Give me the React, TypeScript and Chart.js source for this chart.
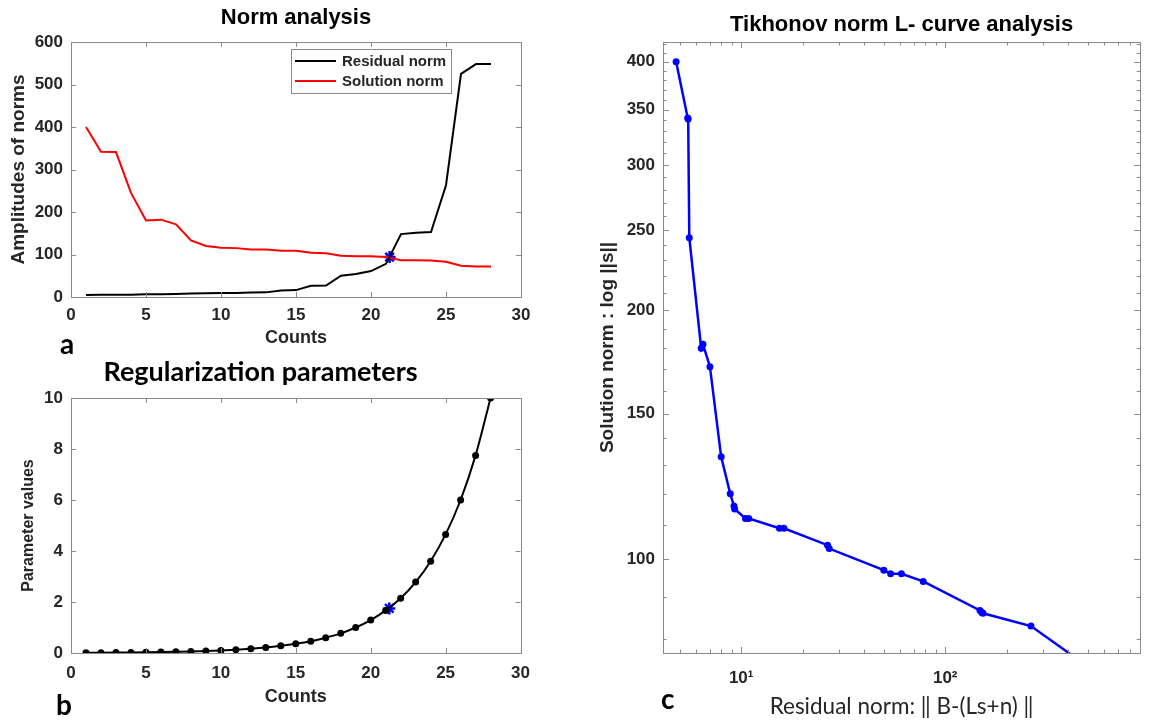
import React, { useEffect, useRef } from 'react';
import { Chart, registerables } from 'chart.js';

Chart.register(...registerables);

// ---------------- data ----------------
const counts = [1, 2, 3, 4, 5, 6, 7, 8, 9, 10, 11, 12, 13, 14, 15, 16, 17, 18, 19, 20, 21, 22, 23, 24, 25, 26, 27, 28];
const residualNorm = [4.8, 5.47, 5.5, 5.57, 6.37, 6.5, 7.03, 7.98, 8.84, 9.22, 9.29, 10.5, 10.9, 15.4, 16.2, 26.5, 27, 50, 54, 61, 78, 148, 151, 153, 263, 525, 548, 548];
const solutionNorm = [400, 342, 341, 245, 180, 182, 171, 133, 120, 116, 115, 112, 112, 109, 109, 104, 103, 97, 96, 96, 94, 86.7, 86.2, 86, 83, 73.5, 72, 72];
const regParams = [0.01, 0.013, 0.017, 0.022, 0.028, 0.036, 0.047, 0.06, 0.078, 0.1, 0.13, 0.167, 0.215, 0.28, 0.36, 0.46, 0.6, 0.77, 1.0, 1.29, 1.67, 2.15, 2.78, 3.6, 4.65, 6.0, 7.75, 10];
const kneeCount = 21.24;
const kneeNorm = 94;
const kneeParam = 1.75;

// tick lists for panel c (log axes)
const cXTicks = [5, 6, 7, 8, 9, 10, 20, 30, 40, 50, 60, 70, 80, 90, 100, 200, 300, 400, 500, 600, 700, 800, 900];
const cXLabelValues = [10, 100];
const cXLabelTexts = ['10¹', '10²'];
const cYTicks = [80, 90, 100, 110, 120, 130, 140, 150, 160, 170, 180, 190, 200, 210, 220, 230, 240, 250, 260, 270, 280, 290, 300, 310, 320, 330, 340, 350, 360, 370, 380, 390, 400, 410, 420];
const cYLabelValues = [100, 150, 200, 250, 300, 350, 400];

// ---------------- styles ----------------
const ARIAL = '"Liberation Sans", Arial, Helvetica, sans-serif';
const CALIBRI = 'Lato, "Open Sans", sans-serif';
const TEXT = '#262626';
const AXIS = '#8a8a8a';
const tickFont = { family: ARIAL, size: 17, weight: 'bold' as const };

// MATLAB-like box with inward ticks on all four sides
const matlabAxes = {
  id: 'matlabAxes',
  afterDatasetsDraw(chart: any, _args: any, opts: any) {
    const { ctx, chartArea: a } = chart;
    const xs = chart.scales.x;
    const ys = chart.scales.y;
    ctx.save();
    ctx.strokeStyle = opts.color || AXIS;
    ctx.lineWidth = 1;
    ctx.beginPath();
    for (const t of xs.ticks) {
      const px = Math.round(xs.getPixelForValue(t.value)) + 0.5;
      if (px <= a.left + 1 || px >= a.right - 1) continue;
      const len = t.label ? opts.major : opts.minor;
      ctx.moveTo(px, a.bottom);
      ctx.lineTo(px, a.bottom - len);
      ctx.moveTo(px, a.top);
      ctx.lineTo(px, a.top + len);
    }
    for (const t of ys.ticks) {
      const py = Math.round(ys.getPixelForValue(t.value)) + 0.5;
      if (py <= a.top + 1 || py >= a.bottom - 1) continue;
      const len = t.label ? opts.major : opts.minor;
      ctx.moveTo(a.left, py);
      ctx.lineTo(a.left + len, py);
      ctx.moveTo(a.right, py);
      ctx.lineTo(a.right - len, py);
    }
    ctx.stroke();
    ctx.strokeRect(Math.round(a.left) + 0.5, Math.round(a.top) + 0.5, Math.round(a.right - a.left), Math.round(a.bottom - a.top));
    ctx.restore();
  },
};

// boxed legend inside the plot area (top right)
const boxLegend = {
  id: 'boxLegend',
  afterDraw(chart: any, _args: any, opts: any) {
    if (!opts || !opts.show) return;
    const { ctx, chartArea } = chart;
    const items = chart.data.datasets.filter((d: any) => d.label);
    ctx.save();
    ctx.font = opts.font;
    const textW = Math.max(...items.map((d: any) => ctx.measureText(d.label).width));
    const w = Math.round(opts.padLeft + opts.lineLen + opts.gap + textW + opts.padRight);
    const h = opts.rowH * items.length + opts.padY * 2;
    const x0 = Math.round(chartArea.right - opts.offsetRight - w);
    const y0 = Math.round(chartArea.top + opts.offsetTop);
    ctx.fillStyle = '#ffffff';
    ctx.fillRect(x0, y0, w, h);
    ctx.strokeStyle = AXIS;
    ctx.lineWidth = 1;
    ctx.strokeRect(x0 + 0.5, y0 + 0.5, w, h);
    items.forEach((d: any, i: number) => {
      const cy = y0 + opts.padY + opts.rowH * (i + 0.5);
      ctx.strokeStyle = d.borderColor;
      ctx.lineWidth = d.borderWidth;
      ctx.beginPath();
      ctx.moveTo(x0 + opts.padLeft, cy);
      ctx.lineTo(x0 + opts.padLeft + opts.lineLen, cy);
      ctx.stroke();
      ctx.fillStyle = TEXT;
      ctx.textBaseline = 'middle';
      ctx.textAlign = 'left';
      ctx.fillText(d.label, x0 + opts.padLeft + opts.lineLen + opts.gap, cy + 1);
    });
    ctx.restore();
  },
};

function configA(): any {
  return {
    type: 'line',
    data: {
      datasets: [
        { label: 'Residual norm', data: counts.map((c, i) => ({ x: c, y: residualNorm[i] })), borderColor: '#000000', borderWidth: 2, pointRadius: 0 },
        { label: 'Solution norm', data: counts.map((c, i) => ({ x: c, y: solutionNorm[i] })), borderColor: '#ff0000', borderWidth: 2, pointRadius: 0 },
        { label: '', data: [{ x: kneeCount, y: kneeNorm }], showLine: false, pointStyle: 'star', pointRadius: 6, borderColor: '#0000ff', pointBorderColor: '#0000ff', pointBorderWidth: 2.5 },
      ],
    },
    plugins: [matlabAxes, boxLegend],
    options: {
      responsive: false,
      animation: false,
      events: [],
      layout: { padding: { left: 0, right: 39, top: 0, bottom: 0 } },
      plugins: {
        legend: { display: false },
        tooltip: { enabled: false },
        title: { display: true, text: 'Norm analysis', fullSize: false, color: '#000', font: { family: ARIAL, size: 22, weight: 'bold', lineHeight: 1 }, padding: { top: 7, bottom: 13 } },
        matlabAxes: { major: 5, minor: 3 },
        boxLegend: { show: true, font: `bold 15px ${ARIAL}`, padLeft: 4, lineLen: 41, gap: 6, padRight: 5, rowH: 20, padY: 2, offsetRight: 70, offsetTop: 7 },
      },
      scales: {
        x: {
          type: 'linear', min: 0, max: 30,
          ticks: { stepSize: 5, font: tickFont, color: TEXT, padding: 8, maxRotation: 0, autoSkip: false },
          grid: { display: false, drawTicks: false }, border: { display: false },
          title: { display: true, text: 'Counts', color: TEXT, font: { family: ARIAL, size: 18, weight: 'bold' }, padding: { top: 0, bottom: 1 } },
          afterFit: (s: any) => { s.height = 53; },
        },
        y: {
          type: 'linear', min: 0, max: 600,
          ticks: { stepSize: 100, font: tickFont, color: TEXT, padding: 8, autoSkip: false },
          grid: { display: false, drawTicks: false }, border: { display: false },
          title: { display: true, text: 'Amplitudes of norms', color: TEXT, font: { family: ARIAL, size: 19, weight: 'bold' }, padding: { top: 7, bottom: 0 } },
          afterFit: (s: any) => { s.width = 71; },
        },
      },
    },
  };
}

function configB(): any {
  return {
    type: 'line',
    data: {
      datasets: [
        { label: 'Parameter', data: counts.map((c, i) => ({ x: c, y: regParams[i] })), borderColor: '#000000', backgroundColor: '#000000', borderWidth: 2, pointRadius: 3.5, pointBackgroundColor: '#000000', pointBorderWidth: 0, cubicInterpolationMode: 'monotone' },
        { label: 'Knee', data: [{ x: kneeCount, y: kneeParam }], showLine: false, pointStyle: 'star', pointRadius: 6, borderColor: '#0000ff', pointBorderColor: '#0000ff', pointBorderWidth: 2.5 },
      ],
    },
    plugins: [matlabAxes],
    options: {
      responsive: false,
      animation: false,
      events: [],
      layout: { padding: { left: 0, right: 19, top: 0, bottom: 0 } },
      plugins: {
        legend: { display: false },
        tooltip: { enabled: false },
        title: { display: true, text: 'Regularization parameters', fullSize: true, color: '#000', font: { family: CALIBRI, size: 27, weight: 'bold', lineHeight: 1 }, padding: { top: 9, bottom: 12 } },
        matlabAxes: { major: 5, minor: 3 },
      },
      scales: {
        x: {
          type: 'linear', min: 0, max: 30,
          ticks: { stepSize: 5, font: tickFont, color: TEXT, padding: 10, maxRotation: 0, autoSkip: false },
          grid: { display: false, drawTicks: false }, border: { display: false },
          title: { display: true, text: 'Counts', color: TEXT, font: { family: ARIAL, size: 18, weight: 'bold' }, padding: { top: 0, bottom: 12 } },
          afterFit: (s: any) => { s.height = 67; },
        },
        y: {
          type: 'linear', min: 0, max: 10,
          ticks: { stepSize: 2, font: tickFont, color: TEXT, padding: 8, autoSkip: false },
          grid: { display: false, drawTicks: false }, border: { display: false },
          title: { display: true, text: 'Parameter values', color: TEXT, font: { family: ARIAL, size: 16, weight: 'bold' }, padding: { top: 19, bottom: 0 } },
          afterFit: (s: any) => { s.width = 71; },
        },
      },
    },
  };
}

function configC(): any {
  return {
    type: 'line',
    data: {
      datasets: [
        { label: 'L-curve', data: residualNorm.map((r, i) => ({ x: r, y: solutionNorm[i] })), borderColor: '#0000ff', backgroundColor: '#0000ff', borderWidth: 2.5, pointRadius: 3.5, pointBackgroundColor: '#0000ff', pointBorderWidth: 0 },
      ],
    },
    plugins: [matlabAxes],
    options: {
      responsive: false,
      animation: false,
      events: [],
      layout: { padding: { left: 0, right: 10, top: 0, bottom: 0 } },
      plugins: {
        legend: { display: false },
        tooltip: { enabled: false },
        title: { display: true, text: 'Tikhonov norm L- curve analysis', fullSize: false, color: '#000', font: { family: ARIAL, size: 22, weight: 'bold', lineHeight: 1 }, padding: { top: 14, bottom: 6 } },
        matlabAxes: { major: 6, minor: 3.5 },
      },
      scales: {
        x: {
          type: 'logarithmic', min: 4.14, max: 902,
          afterBuildTicks: (s: any) => { s.ticks = cXTicks.map((v) => ({ value: v })); },
          ticks: {
            font: tickFont, color: TEXT, padding: 15, maxRotation: 0, autoSkip: false,
            callback: (v: number) => { const k = cXLabelValues.indexOf(v); return k >= 0 ? cXLabelTexts[k] : ''; },
          },
          grid: { display: false, drawTicks: false }, border: { display: false },
          title: { display: true, text: 'Residual norm: ‖ B-(Ls+n) ‖', color: TEXT, font: { family: CALIBRI, size: 22.5, weight: 'normal' }, padding: { top: 0, bottom: 0 } },
          afterFit: (s: any) => { s.height = 67; },
        },
        y: {
          type: 'logarithmic', min: 77, max: 422.6,
          afterBuildTicks: (s: any) => { s.ticks = cYTicks.map((v) => ({ value: v })); },
          ticks: {
            font: tickFont, color: TEXT, padding: 8, autoSkip: false,
            callback: (v: number) => (cYLabelValues.indexOf(v) >= 0 ? String(v) : ''),
          },
          grid: { display: false, drawTicks: false }, border: { display: false },
          title: { display: true, text: 'Solution norm : log ||s||', color: TEXT, font: { family: ARIAL, size: 19, weight: 'bold' }, padding: { top: 16, bottom: 0 } },
          afterFit: (s: any) => { s.width = 83; },
        },
      },
    },
  };
}

function ChartCanvas(props: { make: () => any; left: number; top: number; width: number; height: number }) {
  const ref = useRef<HTMLCanvasElement>(null);
  useEffect(() => {
    const chart = new Chart(ref.current as HTMLCanvasElement, props.make());
    return () => chart.destroy();
  }, []);
  return (
    <canvas
      ref={ref}
      width={props.width}
      height={props.height}
      style={{ position: 'absolute', left: props.left, top: props.top, width: props.width, height: props.height, display: 'block' }}
    />
  );
}

const letterStyle: React.CSSProperties = {
  position: 'absolute',
  fontFamily: CALIBRI,
  fontWeight: 700,
  fontSize: 28,
  lineHeight: '28px',
  color: '#000',
  margin: 0,
};

export default function App() {
  return (
    <div style={{ position: 'absolute', left: 0, top: 0, width: 1155, height: 720, background: '#ffffff', overflow: 'hidden' }}>
      <ChartCanvas make={configA} left={0} top={0} width={560} height={350} />
      <ChartCanvas make={configB} left={0} top={350} width={540} height={370} />
      <ChartCanvas make={configC} left={580} top={0} width={575} height={720} />
      <div style={{ ...letterStyle, left: 60, top: 329 }}>a</div>
      <div style={{ ...letterStyle, left: 56, top: 690 }}>b</div>
      <div style={{ ...letterStyle, left: 661, top: 684 }}>c</div>
    </div>
  );
}
